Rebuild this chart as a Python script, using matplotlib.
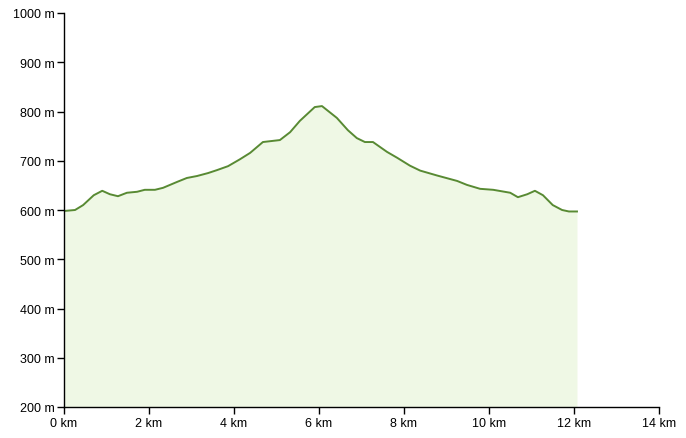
import matplotlib
matplotlib.use('Agg')
import matplotlib.pyplot as plt
from matplotlib.ticker import FuncFormatter

# elevation profile
dist_km = [0.0, 0.26, 0.45, 0.70, 0.90, 1.08, 1.27, 1.48, 1.72, 1.90, 2.14, 2.33,
           2.66, 2.89, 3.13, 3.39, 3.60, 3.86, 4.14, 4.38, 4.68, 5.08, 5.32, 5.55,
           5.90, 6.07, 6.42, 6.68, 6.89, 7.08, 7.27, 7.60, 7.84, 8.14, 8.38, 8.78,
           9.25, 9.48, 9.79, 10.10, 10.50, 10.68, 10.90, 11.08, 11.27, 11.50, 11.72,
           11.88, 12.07]
elev_m = [598, 600, 610, 630, 639, 632, 628, 635, 637, 641, 641, 645,
          657, 665, 669, 675, 681, 689, 703, 716, 738, 742, 758, 781,
          809, 811, 787, 762, 746, 738, 738, 718, 706, 690, 680, 670,
          659, 651, 643, 641, 635, 626, 632, 639, 630, 610, 600,
          597, 597]

x_ticks = [0, 2, 4, 6, 8, 10, 12, 14]
y_ticks = [200, 300, 400, 500, 600, 700, 800, 900, 1000]

plt.rcParams['font.family'] = ['Liberation Sans', 'DejaVu Sans']

fig = plt.figure(figsize=(6.86, 4.39), dpi=100)
ax = fig.add_axes([64 / 686, 31 / 439, 595 / 686, 394 / 439])

ax.fill_between(dist_km, elev_m, 200, color='#eff8e5', lw=0)
ax.plot(dist_km, elev_m, color='#588a33', lw=1.4)

ax.set_xlim(0, 14)
ax.set_ylim(200, 1000)
ax.set_xticks(x_ticks)
ax.set_yticks(y_ticks)
ax.xaxis.set_major_formatter(FuncFormatter(lambda v, p: '%d km' % v))
ax.yaxis.set_major_formatter(FuncFormatter(lambda v, p: '%d m' % v))
ax.tick_params(labelsize=9, length=5, width=1, colors='black', pad=2)

for s in ['top', 'right']:
    ax.spines[s].set_visible(False)
for s in ['left', 'bottom']:
    ax.spines[s].set_linewidth(1)

fig.savefig('out.png', dpi=100)
